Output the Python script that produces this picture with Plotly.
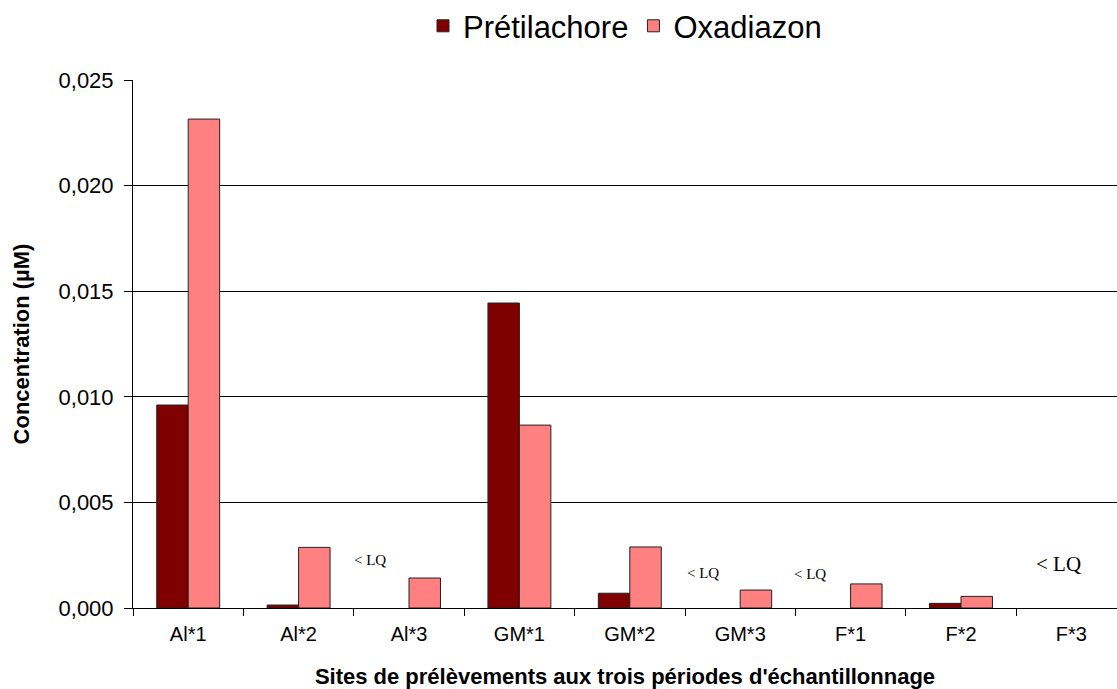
import plotly.graph_objects as go

categories = ["Al*1", "Al*2", "Al*3", "GM*1", "GM*2", "GM*3", "F*1", "F*2", "F*3"]
pretilachore = [0.00961, 0.00014, 0.0, 0.01444, 0.00070, 0.0, 0.0, 0.00022, 0.0]
oxadiazon = [0.02315, 0.00287, 0.00142, 0.00866, 0.00289, 0.00085, 0.00114, 0.00055, 0.0]
lq_sites = ["Al*3", "GM*3", "F*1", "F*3"]
lq_label = "< LQ"
y_ticks = [0.0, 0.005, 0.010, 0.015, 0.020, 0.025]


def outline(values):
    return [0 if v == 0 else 1 for v in values]


fig = go.Figure()
fig.add_trace(go.Bar(name="Prétilachore", x=categories, y=pretilachore,
                     marker=dict(color="#800000",
                                 line=dict(color="#222222", width=outline(pretilachore)))))
fig.add_trace(go.Bar(name="Oxadiazon", x=categories, y=oxadiazon,
                     marker=dict(color="#FF8080",
                                 line=dict(color="#222222", width=outline(oxadiazon)))))

# "< LQ" annotations (offsets in category units / data units)
lq_style = [(-0.35, 0.00227, 15), (-0.34, 0.00166, 15), (-0.37, 0.00161, 15), (-0.12, 0.00208, 21)]
for site, (dx, yv, fs) in zip(lq_sites, lq_style):
    fig.add_annotation(x=categories.index(site) + dx, y=yv, text=lq_label, showarrow=False,
                       xref="x", yref="y",
                       font=dict(family="Liberation Serif, Times New Roman, serif", size=fs, color="black"))

fig.update_layout(
    width=1117, height=689,
    margin=dict(l=133, r=0, t=80, b=81, autoexpand=False),
    paper_bgcolor="white", plot_bgcolor="white",
    separators=", ",
    barmode="group", bargap=0.43, bargroupgap=0,
    font=dict(family="Arial, Liberation Sans, sans-serif", color="black"),
    legend=dict(orientation="h", x=0.5, xanchor="center", y=1.102, yanchor="middle",
                font=dict(size=31), traceorder="normal", itemwidth=30),
    showlegend=True,
)
fig.update_xaxes(
    range=[-0.5, 8.413], automargin=False,
    showline=True, linecolor="black", linewidth=1,
    ticks="outside", tickson="boundaries", ticklen=7, tickcolor="black",
    tickfont=dict(size=20), ticklabelstandoff=8,
    title=dict(text="<b>Sites de prélèvements aux trois périodes d'échantillonnage</b>",
               font=dict(size=22), standoff=24),
    showgrid=False,
)
fig.update_yaxes(
    range=[0, 0.025], tickvals=y_ticks, tickformat=".3f", automargin=False,
    showline=True, linecolor="black", linewidth=1,
    ticks="outside", ticklen=8, tickcolor="black",
    tickfont=dict(size=22), ticklabelstandoff=6,
    showgrid=True, gridcolor="black", gridwidth=1,
    zeroline=False,
    title=dict(text="<b>Concentration (µM)</b>", font=dict(size=22), standoff=22),
)

fig.write_html("out.html",
               config={"displayModeBar": False},
               post_script="document.body.style.margin='0px';document.body.style.overflow='hidden';")
